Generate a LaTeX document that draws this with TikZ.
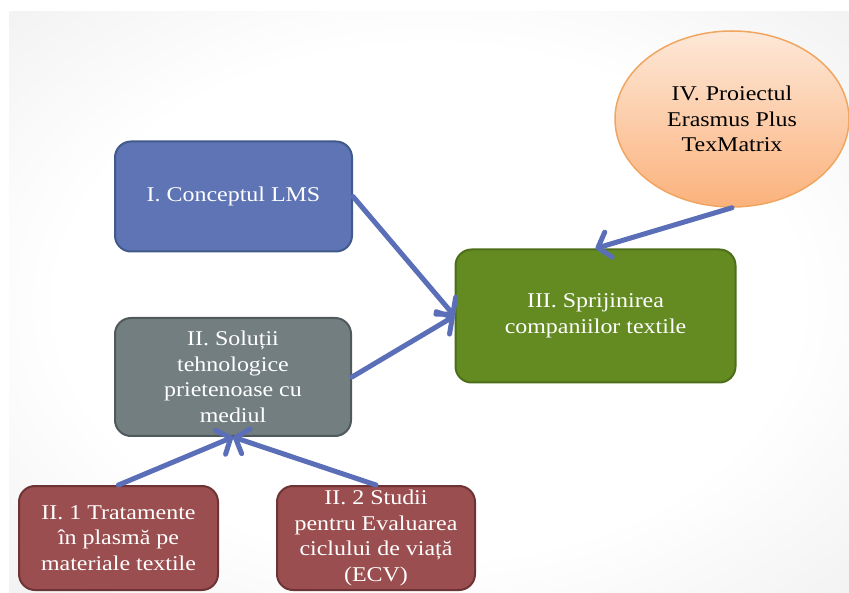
\documentclass[tikz,border=0pt]{standalone}
\usepackage{fontspec}
\setmainfont[FakeStretch=1.14]{Liberation Serif}
\usetikzlibrary{arrows.meta,shapes.geometric}
\definecolor{bluefill}{HTML}{5E74B4}
\definecolor{bluedraw}{HTML}{415A8C}
\definecolor{grayfill}{HTML}{737E81}
\definecolor{graydraw}{HTML}{505A5D}
\definecolor{greenfill}{HTML}{648A22}
\definecolor{greendraw}{HTML}{4E6E1A}
\definecolor{redfill}{HTML}{9A4E4F}
\definecolor{reddraw}{HTML}{6E3435}
\definecolor{arrowcol}{HTML}{5B6FB8}
\definecolor{peachtop}{HTML}{FDE8D8}
\definecolor{peachbot}{HTML}{FBB27C}
\definecolor{peachdraw}{HTML}{F0A660}
\definecolor{bgedge}{HTML}{D6D6D6}
\pgfdeclareradialshading{bgshade}{\pgfpoint{0bp}{0bp}}{color(0bp)=(white); color(22bp)=(white); color(55bp)=(bgedge!75!white); color(71bp)=(bgedge)}
\tikzset{
  txt/.style={font=\fontsize{21}{25.5}\selectfont, align=center},
  box/.style={txt, draw, line width=2pt, rounded corners=16pt, text=white, inner sep=0pt},
  link/.style={draw=arrowcol, line width=5pt, line cap=round, -{Straight Barb[round, length=11pt, width=26pt]}}
}
\begin{document}
\begin{tikzpicture}[x=1pt,y=-1pt]
\useasboundingbox (0,0) rectangle (849,593);
\fill[white] (0,0) rectangle (849,593);
\shade[shading=bgshade] (9,12) rectangle (849,593);

\node[box, fill=bluefill, draw=bluedraw, minimum width=237pt, minimum height=110pt] (I) at (233.5,196.5) {I. Conceptul LMS};
\node[box, fill=grayfill, draw=graydraw, minimum width=236pt, minimum height=118pt] (II) at (233,377) {II. Soluții\\tehnologice\\prietenoase cu\\mediul};
\node[box, fill=greenfill, draw=greendraw, minimum width=280pt, minimum height=133pt] (III) at (595.5,316) {III. Sprijinirea\\companiilor textile};
\node[txt, ellipse, draw=peachdraw, line width=1.5pt, top color=peachtop, bottom color=peachbot, minimum width=234pt, minimum height=176pt, inner sep=0pt] (IV) at (732,119) {IV. Proiectul\\Erasmus Plus\\TexMatrix};
\node[box, fill=redfill, draw=reddraw, minimum width=199pt, minimum height=104pt] (II1) at (118.5,538) {II. 1 Tratamente\\în plasmă pe\\materiale textile};
\node[box, fill=redfill, draw=reddraw, minimum width=198pt, minimum height=104pt] (II2) at (376,538) {II. 2 Studii\\pentru Evaluarea\\ciclului de viață\\(ECV)};

\draw[link] (I.east) -- (III.west);
\draw[link] (II.east) -- (III.west);
\draw[link] (IV.south) -- (III.north);
\draw[link] (II1.north) -- (II.south);
\draw[link] (II2.north) -- (II.south);
\end{tikzpicture}
\end{document}
